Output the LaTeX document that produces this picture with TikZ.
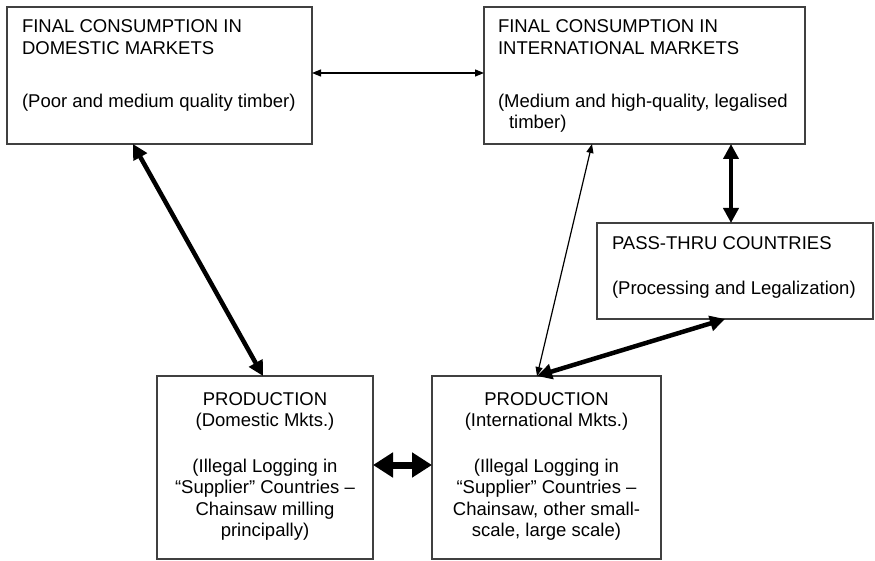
\documentclass[tikz,border=0pt]{standalone}
\usepackage{fontspec}
\setmainfont{Liberation Sans}
\usetikzlibrary{arrows.meta,calc}
\begin{document}
\begin{tikzpicture}[x=1pt,y=-1pt,
  box/.style={draw=black!75,line width=1.3pt,rectangle,inner sep=0pt,outer sep=0pt,anchor=north west},
  txt/.style={inner sep=0pt,outer sep=0pt,font=\fontsize{18.5}{21.3}\selectfont},
  thinarr/.style={draw=black,line width=1.2pt,{Triangle[length=9pt,width=7pt]}-{Triangle[length=9pt,width=7pt]}},
  thickarr/.style={draw=black,line width=4.5pt,{Triangle[length=15pt,width=15pt]}-{Triangle[length=15pt,width=15pt]}},
  fatarr/.style={draw=black,line width=7pt,{Triangle[length=20pt,width=24pt]}-{Triangle[length=20pt,width=24pt]}}
]
\useasboundingbox (0,0) rectangle (875,561);

% boxes
\node[box,minimum width=305pt,minimum height=137pt] (b1) at (7,7) {};
\node[box,minimum width=321pt,minimum height=137pt] (b2) at (484,7) {};
\node[box,minimum width=276pt,minimum height=96pt] (pt) at (597,223) {};
\node[box,minimum width=216pt,minimum height=183pt] (pd) at (157,376) {};
\node[box,minimum width=229pt,minimum height=183pt] (pi) at (432,376) {};

% texts
\node[txt,anchor=base west] (t1) at (22,33) {\begin{tabular}[t]{@{}l@{}}FINAL CONSUMPTION IN\\DOMESTIC MARKETS\\[32pt](Poor and medium quality timber)\end{tabular}};
\node[txt,anchor=base west] (t2) at (498,33) {\begin{tabular}[t]{@{}l@{}}FINAL CONSUMPTION IN\\INTERNATIONAL MARKETS\\[32pt](Medium and high-quality, legalised\\\hspace*{11pt}timber)\end{tabular}};
\node[txt,anchor=base west] (t3) at (612,250) {\begin{tabular}[t]{@{}l@{}}PASS-THRU COUNTRIES\\[23.7pt](Processing and Legalization)\end{tabular}};
\node[txt,anchor=base] (t4) at (265,405) {\begin{tabular}[t]{@{}c@{}}PRODUCTION\\(Domestic Mkts.)\\[25pt](Illegal Logging in\\“Supplier” Countries –\\Chainsaw milling\\principally)\end{tabular}};
\node[txt,anchor=base] (t5) at (546.5,405) {\begin{tabular}[t]{@{}c@{}}PRODUCTION\\(International Mkts.)\\[25pt](Illegal Logging in\\“Supplier” Countries –\\Chainsaw, other small-\\scale, large scale)\end{tabular}};

% connectors
\draw[thinarr] ($(b1.north east)+(0,66)$) -- ($(b2.north west)+(0,66)$);
\draw[thickarr] ($(b1.south west)+(126,0)$) -- ($(pd.north west)+(106,0)$);
\draw[thinarr] ($(b2.south west)+(108,0)$) -- ($(pi.north west)+(105,0)$);
\draw[thickarr] ($(b2.south west)+(247,0)$) -- ($(pt.north west)+(134,0)$);
\draw[thickarr] ($(pt.south west)+(128,0)$) -- ($(pi.north west)+(105,0)$);
\draw[fatarr] ($(pd.north east)+(0,89)$) -- ($(pi.north west)+(0,89)$);
\end{tikzpicture}
\end{document}
